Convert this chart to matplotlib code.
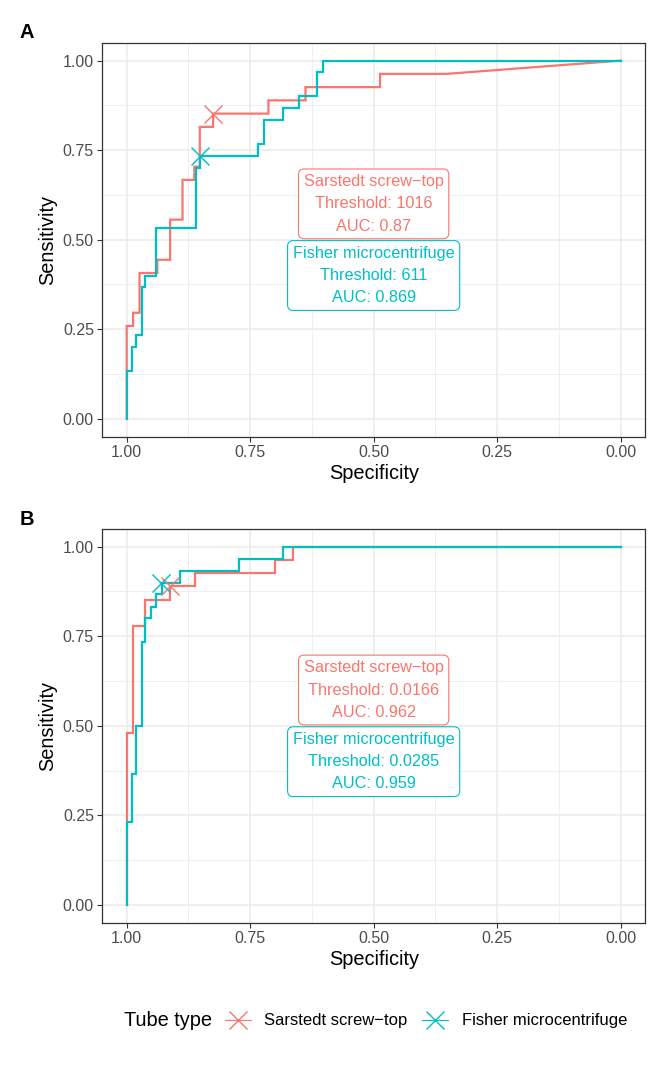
import matplotlib
matplotlib.use("Agg")
import matplotlib.pyplot as plt
from matplotlib.lines import Line2D
import numpy as np

plt.rcParams['font.family'] = ['Liberation Sans', 'DejaVu Sans']

RED = '#F8766D'
TEAL = '#00BFC4'
series_names = ['Sarstedt screw\u2212top', 'Fisher microcentrifuge']

# ---- Panel A data (specificity, sensitivity vertices of ROC step paths)
a_sar_spec = [1, 1, 0.987, 0.987, 0.974, 0.974, 0.938, 0.938, 0.912, 0.912, 0.887, 0.887,
              0.863, 0.863, 0.852, 0.852, 0.825, 0.825, 0.713, 0.713, 0.638, 0.638,
              0.487, 0.487, 0.352, 0]
a_sar_sens = [0, 0.259, 0.259, 0.296, 0.296, 0.407, 0.407, 0.444, 0.444, 0.556, 0.556, 0.667,
              0.667, 0.704, 0.704, 0.815, 0.815, 0.852, 0.852, 0.889, 0.889, 0.926,
              0.926, 0.963, 0.963, 1]
a_fis_spec = [1, 1, 0.99, 0.99, 0.981, 0.981, 0.97, 0.97, 0.962, 0.962, 0.94, 0.94,
              0.86, 0.86, 0.852, 0.852, 0.734, 0.734, 0.723, 0.723, 0.684, 0.684,
              0.652, 0.652, 0.614, 0.614, 0.603, 0.603, 0]
a_fis_sens = [0, 0.133, 0.133, 0.2, 0.2, 0.233, 0.233, 0.367, 0.367, 0.4, 0.4, 0.533,
              0.533, 0.7, 0.7, 0.733, 0.733, 0.767, 0.767, 0.833, 0.833, 0.867,
              0.867, 0.9, 0.9, 0.967, 0.967, 1, 1]
a_best_spec = [0.825, 0.852]
a_best_sens = [0.852, 0.733]
a_thresholds = ['1016', '611']
a_aucs = ['0.87', '0.869']

# ---- Panel B data
b_sar_spec = [1, 1, 0.988, 0.988, 0.963, 0.963, 0.912, 0.912, 0.862, 0.862, 0.70, 0.70,
              0.663, 0.663, 0]
b_sar_sens = [0, 0.481, 0.481, 0.778, 0.778, 0.852, 0.852, 0.889, 0.889, 0.926, 0.926, 0.963,
              0.963, 1, 1]
b_fis_spec = [1, 1, 0.99, 0.99, 0.981, 0.981, 0.97, 0.97, 0.962, 0.962, 0.95, 0.95,
              0.94, 0.94, 0.929, 0.929, 0.892, 0.892, 0.773, 0.773, 0.683, 0.683, 0]
b_fis_sens = [0, 0.233, 0.233, 0.367, 0.367, 0.5, 0.5, 0.733, 0.733, 0.8, 0.8, 0.833,
              0.833, 0.867, 0.867, 0.9, 0.9, 0.933, 0.933, 0.967, 0.967, 1, 1]
b_best_spec = [0.912, 0.93]
b_best_sens = [0.889, 0.9]
b_thresholds = ['0.0166', '0.0285']
b_aucs = ['0.962', '0.959']

ticks = [0, 0.25, 0.5, 0.75, 1.0]
tick_labels = ['0.00', '0.25', '0.50', '0.75', '1.00']

W, H = 666, 1066
fig = plt.figure(figsize=(W / 100, H / 100), dpi=100)

BASE = 14.4
SMALL = 11.5


def make_panel(rect, sar, fis, best_spec, best_sens, thresholds, aucs):
    ax = fig.add_axes(rect)
    ax.set_xlim(1.05, -0.05)
    ax.set_ylim(-0.05, 1.05)
    ax.set_xticks(ticks)
    ax.set_xticklabels(tick_labels)
    ax.set_yticks(ticks)
    ax.set_yticklabels(tick_labels)
    minors = [0.125, 0.375, 0.625, 0.875]
    ax.set_xticks(minors, minor=True)
    ax.set_yticks(minors, minor=True)
    ax.grid(which='major', color='#EBEBEB', lw=1.1)
    ax.grid(which='minor', color='#EBEBEB', lw=0.55)
    ax.set_axisbelow(True)
    ax.tick_params(which='major', length=3.3, width=0.8, color='#333333',
                   labelsize=SMALL, labelcolor='#4D4D4D', pad=2.5)
    ax.tick_params(which='minor', length=0)
    for s in ax.spines.values():
        s.set_color('#333333')
        s.set_linewidth(0.9)
    ax.set_xlabel('Specificity', fontsize=BASE, labelpad=3)
    ax.set_ylabel('Sensitivity', fontsize=BASE, labelpad=4)

    colors = [RED, TEAL]
    for (sx, sy), c in zip([sar, fis], colors):
        ax.plot(sx, sy, color=c, lw=1.6, solid_joinstyle='miter', zorder=3)
    for i, c in enumerate(colors):
        ax.plot([best_spec[i]], [best_sens[i]], marker='x', ms=13, mew=1.0,
                color=c, ls='none', zorder=4)
    ys = [0.6, 0.4]
    for i, c in enumerate(colors):
        txt = f"{series_names[i]}\nThreshold: {thresholds[i]}\nAUC: {aucs[i]}"
        ax.text(0.5, ys[i], txt, color=c, fontsize=11.7, ha='center', va='center',
                multialignment='center', linespacing=1.6, zorder=5,
                bbox=dict(boxstyle='round,pad=0.32,rounding_size=0.35', fc='white',
                          ec=c, lw=0.8))
    return ax


def rect_from_px(left, top, right, bottom):
    return [left / W, 1 - bottom / H, (right - left) / W, (bottom - top) / H]


axA = make_panel(rect_from_px(102, 42.7, 645.3, 436.7),
                 (a_sar_spec, a_sar_sens), (a_fis_spec, a_fis_sens),
                 a_best_spec, a_best_sens, a_thresholds, a_aucs)
axB = make_panel(rect_from_px(102, 528.8, 645.3, 922.9),
                 (b_sar_spec, b_sar_sens), (b_fis_spec, b_fis_sens),
                 b_best_spec, b_best_sens, b_thresholds, b_aucs)

fig.text(20 / W, 1 - 33 / H, 'A', fontsize=BASE, fontweight='bold', ha='left', va='center')
fig.text(20 / W, 1 - 519 / H, 'B', fontsize=BASE, fontweight='bold', ha='left', va='center')

# legend
ly = 1 - 1021 / H
fig.text(124 / W, ly, 'Tube type', fontsize=BASE, ha='left', va='center')
handles = [Line2D([0], [0], color=c, marker='x', ms=13, mew=1.0, lw=0.8)
           for c in [RED, TEAL]]
fig.legend(handles, series_names, loc='center left', bbox_to_anchor=(225 / W, ly),
           ncol=2, frameon=False, fontsize=12, handlelength=1.55,
           handletextpad=0.8, columnspacing=0.9, borderpad=0, borderaxespad=0)

fig.savefig('out.png', dpi=100)
